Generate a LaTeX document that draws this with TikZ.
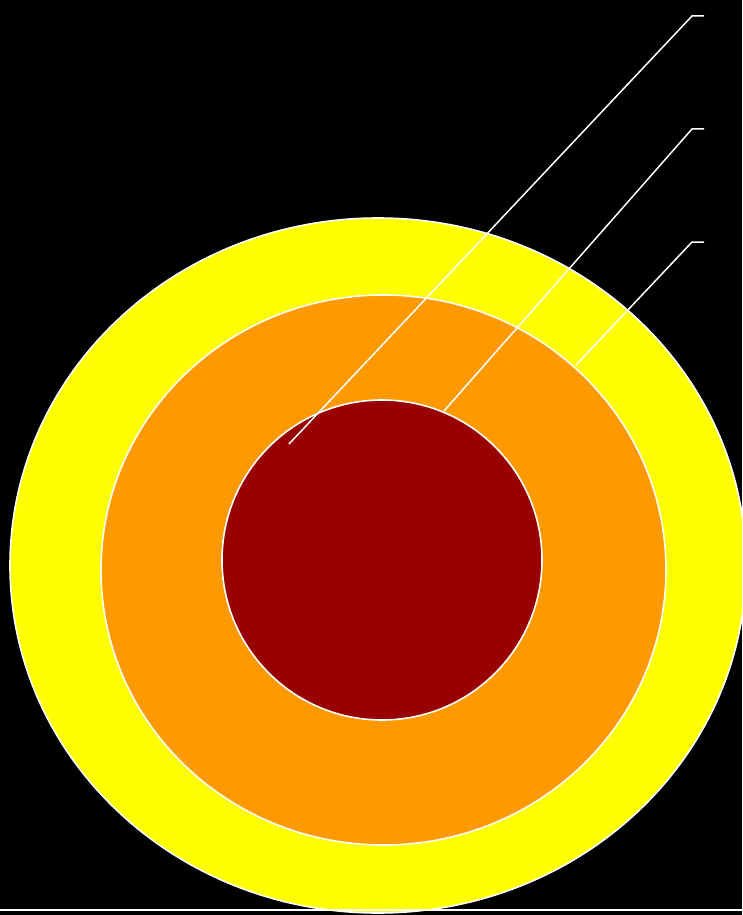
\documentclass[tikz,border=0pt]{standalone}
\usetikzlibrary{positioning}

\definecolor{ringyellow}{HTML}{FFFF00}
\definecolor{ringorange}{HTML}{FF9900}
\definecolor{coredred}{HTML}{990000}

\begin{document}
\begin{tikzpicture}[
  x=1pt, y=-1pt,
  ring/.style={draw=white, line width=1.6pt},
  leader/.style={draw=white, line width=1.5pt},
]

% --- canvas ---
\fill[black] (0,0) rectangle (742,915);
\useasboundingbox (0,0) rectangle (742,915);

% --- rings ---
\begin{scope}
  \clip (0,0) rectangle (742,915);
  \path[ring, fill=ringyellow] (378,565.5) ellipse [x radius=368, y radius=347.5];
  \path[ring, fill=ringorange] (383.5,570) ellipse [x radius=282.5, y radius=275];
  \path[ring, fill=coredred] (382,560) circle [radius=160];
\end{scope}

% --- ground line ---
\coordinate (gl) at (0,910);
\coordinate (gr) at (742,910);
\draw[leader] (gl) -- (gr);

% --- leader lines ---
\coordinate (core) at (289,444);
\coordinate (mid) at (444,411);
\coordinate (outer) at (576,365);
\coordinate (k1) at (692,16);
\coordinate (k2) at (692,129);
\coordinate (k3) at (692,242);
\coordinate (e1) at (704,16);
\coordinate (e2) at (704,129);
\coordinate (e3) at (704,242);

\draw[leader] (core) -- (k1) -- (e1);
\draw[leader] (mid) -- (k2) -- (e2);
\draw[leader] (outer) -- (k3) -- (e3);

\end{tikzpicture}
\end{document}
